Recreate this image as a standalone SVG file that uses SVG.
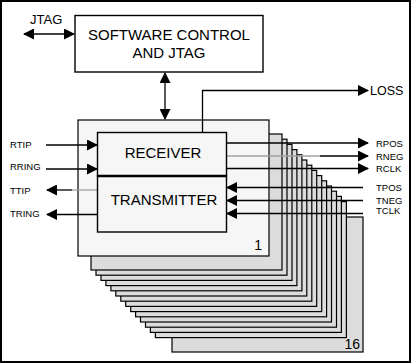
<svg xmlns="http://www.w3.org/2000/svg" width="412" height="364" viewBox="0 0 412 364">
<defs>
<style>
.t{font-family:"Liberation Sans",Arial,sans-serif;fill:#000}
.big{font-size:15px}
.sm{font-size:9.5px}
.md{font-size:13px}
.box{stroke:#000;stroke-width:1.4}
.card{fill:#dcdcdc;stroke:#000;stroke-width:1.2}
.ln{stroke:#000;stroke-width:1.3;fill:none}
</style>
<marker id="ah" markerUnits="userSpaceOnUse" markerWidth="11" markerHeight="11" refX="10" refY="5.5" orient="auto-start-reverse" viewBox="0 0 11 11">
<path d="M0,0 L11,5.5 L0,11 Z" fill="#000"/>
</marker>
</defs>
<rect x="1" y="1" width="409" height="361" fill="#fff" stroke="#000" stroke-width="2"/>

<g id="stack">
<rect class="card" x="172" y="217" width="191" height="135"/>
<rect class="card" x="155.4" y="201.6" width="191" height="136"/>
<rect class="card" x="150.4" y="196.4" width="191" height="136"/>
<rect class="card" x="145.5" y="191.2" width="191" height="136"/>
<rect class="card" x="140.5" y="186" width="191" height="136"/>
<rect class="card" x="135.6" y="180.8" width="191" height="136"/>
<rect class="card" x="130.7" y="175.6" width="191" height="136"/>
<rect class="card" x="125.7" y="170.4" width="191" height="136"/>
<rect class="card" x="120.8" y="165.2" width="191" height="136"/>
<rect class="card" x="115.8" y="160" width="191" height="136"/>
<rect class="card" x="110.9" y="154.8" width="191" height="136"/>
<rect class="card" x="105.9" y="149.6" width="191" height="136"/>
<rect class="card" x="101" y="144.4" width="191" height="136"/>
<rect class="card" x="96" y="139.2" width="191" height="136"/>
<rect class="card" x="91" y="134" width="191" height="136"/>
<text class="t md" x="360" y="349" text-anchor="end" style="font-size:14px">16</text>
</g>

<g id="card1">
<rect x="78" y="120" width="191" height="136" fill="#f6f6f6" stroke="#000" stroke-width="1.2"/>
<text class="t" x="262" y="250" text-anchor="end" style="font-size:14px">1</text>
</g>

<g id="connectors">
<line class="ln" x1="24" y1="34" x2="74" y2="34" marker-start="url(#ah)" marker-end="url(#ah)"/>
<line class="ln" x1="165" y1="73" x2="165" y2="119" marker-start="url(#ah)" marker-end="url(#ah)"/>
<polyline class="ln" points="202.5,132 202.5,90.5 368,90.5" marker-end="url(#ah)"/>
<line class="ln" x1="226" y1="143" x2="368" y2="143" marker-end="url(#ah)"/>
<line x1="226" y1="156" x2="320" y2="156" stroke="#a0a0a0" stroke-width="1.3"/>
<line class="ln" x1="320" y1="156" x2="368" y2="156" marker-end="url(#ah)"/>
<line class="ln" x1="226" y1="168.5" x2="368" y2="168.5" marker-end="url(#ah)"/>
<line class="ln" x1="363" y1="187.5" x2="227" y2="187.5" marker-end="url(#ah)"/>
<line class="ln" x1="363" y1="200.5" x2="227" y2="200.5" marker-end="url(#ah)"/>
<line class="ln" x1="363" y1="213.5" x2="227" y2="213.5" marker-end="url(#ah)"/>
<line class="ln" x1="46" y1="145" x2="97" y2="145" marker-end="url(#ah)"/>
<line class="ln" x1="46" y1="169" x2="97" y2="169" marker-end="url(#ah)"/>
<line x1="72" y1="190" x2="97" y2="190" stroke="#a0a0a0" stroke-width="1.3"/>
<line class="ln" x1="72" y1="190" x2="47" y2="190" marker-end="url(#ah)"/>
<line class="ln" x1="97" y1="214.5" x2="47" y2="214.5" marker-end="url(#ah)"/>
</g>

<g id="software">
<rect class="box" x="75" y="15.5" width="188" height="56.5" fill="#fff"/>
<text class="t big" x="169" y="40" text-anchor="middle">SOFTWARE CONTROL</text>
<text class="t big" x="169" y="57.5" text-anchor="middle">AND JTAG</text>
</g>

<g id="receiver">
<rect class="box" x="97.5" y="132.5" width="129" height="43.5" fill="#f6f6f6"/>
<text class="t big" x="163" y="157.5" text-anchor="middle">RECEIVER</text>
</g>
<g id="transmitter">
<rect class="box" x="97.5" y="176" width="129" height="56" fill="#f6f6f6"/>
<line x1="97.5" y1="176" x2="226.5" y2="176" stroke="#000" stroke-width="2.6"/>
<text class="t big" x="164" y="205" text-anchor="middle">TRANSMITTER</text>
</g>

<g id="labels">
<text class="t md" x="30" y="23.5">JTAG</text>
<text class="t" x="370" y="95" style="font-size:12.5px">LOSS</text>
<text class="t sm" x="376" y="146.5">RPOS</text>
<text class="t sm" x="376" y="159.5">RNEG</text>
<text class="t sm" x="376" y="171.5">RCLK</text>
<text class="t sm" x="376" y="191">TPOS</text>
<text class="t sm" x="376" y="203.5">TNEG</text>
<text class="t sm" x="376" y="214">TCLK</text>
<text class="t sm" x="10" y="147.5">RTIP</text>
<text class="t sm" x="10" y="169.5">RRING</text>
<text class="t sm" x="10" y="194">TTIP</text>
<text class="t sm" x="10" y="216.5">TRING</text>
</g>
</svg>
